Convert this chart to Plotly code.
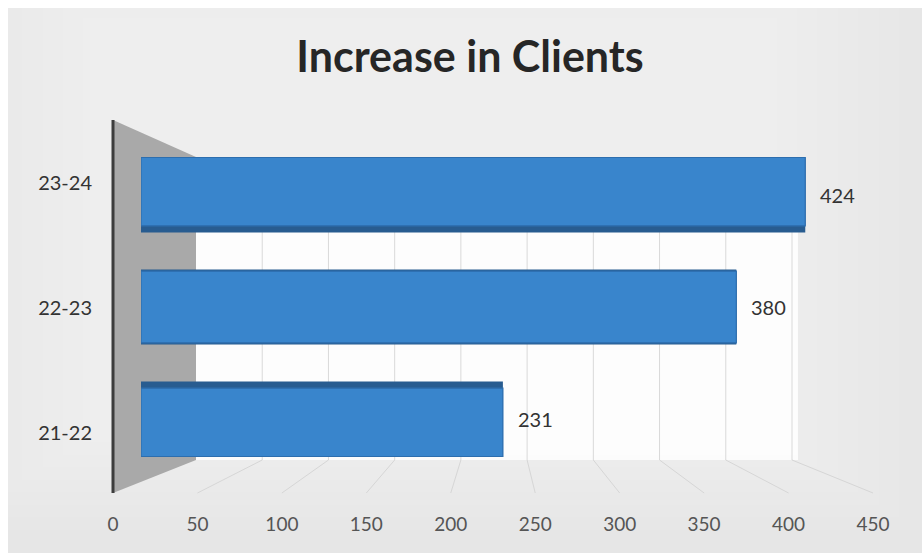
import plotly.graph_objects as go

# ---- data -------------------------------------------------------------
periods = ["21-22", "22-23", "23-24"]
clients = [231, 380, 424]
x_ticks = [0, 50, 100, 150, 200, 250, 300, 350, 400, 450]
x_range = [0, 450]

# ---- canvas helpers (pixel -> paper fraction) -------------------------
W, H = 922, 553


def px(x):
    return x / W


def py(y):
    return 1 - y / H


# geometry of the pseudo-3D frame (pixels)
BAR_X = (141, 846)        # bar axis: 0 .. 450
BAR_Y = (139, 475)        # bar category band (top, bottom)
WALL_X = (196, 792)       # back wall scale: 0 .. 450
WALL_Y = (157, 460)       # back wall (top, bottom)
FRONT_X = (113, 873)      # floor front edge: 0 .. 450
FLOOR_FRONT_Y = 493
SIDE_X = 113              # left side wall edge
SIDE_Y = (120, 493)
LABEL_Y = (120.5, 495.5)  # category label band

BLUE = "#3985cc"
BLUE_EDGE = "#2d6eae"
BLUE_DARK = "#285c90"


def lin(v, a, b):
    return a + (b - a) * (v - x_range[0]) / (x_range[1] - x_range[0])


fig = go.Figure()

# depth strip (visible above / below the front faces)
fig.add_trace(go.Bar(
    y=periods, x=clients, orientation="h",
    width=0.67, offset=-0.335,
    marker=dict(color=BLUE_DARK, line=dict(width=0)),
    hoverinfo="skip", showlegend=False,
    xaxis="x", yaxis="y",
))

# front faces of the bars
fig.add_trace(go.Bar(
    y=periods, x=clients, orientation="h",
    width=[0.61, 0.64, 0.61], offset=[-0.335, -0.32, -0.275],
    marker=dict(color=BLUE, line=dict(color=BLUE_EDGE, width=1.2)),
    hovertemplate="%{y}: %{x}<extra></extra>", showlegend=False,
    xaxis="x", yaxis="y",
))

# helper traces so the auxiliary axes are drawn
invisible = dict(mode="markers", marker=dict(opacity=0), hoverinfo="skip", showlegend=False)
fig.add_trace(go.Scatter(x=x_range, y=[0, 0], xaxis="x2", yaxis="y2", **invisible))
fig.add_trace(go.Scatter(x=[0, 0, 0], y=periods, xaxis="x3", yaxis="y3", **invisible))

# value labels
annotations = [
    dict(x=v, y=p, xref="x", yref="y", text=str(v), showarrow=False,
         xanchor="left", yanchor="middle", xshift=13,
         font=dict(family="Lato", size=20, color="#333333"))
    for p, v in zip(periods, clients)
]

# ---- background and frame shapes --------------------------------------
shapes = [
    dict(type="rect", xref="paper", yref="paper", x0=px(8), x1=1, y0=0, y1=py(8),
         fillcolor="#e6e6e6", line=dict(width=0), layer="below"),
]
# soft vignette: nested light rectangles
cx, cy = 430, 230
steps = 24
for i in range(steps):
    f = 1 - i / steps
    hw, hh = 490 * f, 300 * f
    shapes.append(dict(type="rect", xref="paper", yref="paper",
                       x0=px(max(cx - hw, 8)), x1=px(min(cx + hw, W)),
                       y0=py(min(cy + hh, H)), y1=py(max(cy - hh, 8)),
                       fillcolor="white", opacity=0.055, line=dict(width=0), layer="below"))

# back wall panel
shapes.append(dict(type="rect", xref="paper", yref="paper",
                   x0=px(WALL_X[0]), x1=px(WALL_X[1] + 6), y0=py(WALL_Y[1]), y1=py(WALL_Y[0]),
                   fillcolor="#ffffff", opacity=0.85, line=dict(width=0), layer="below"))

# back wall gridlines
for v in x_ticks[1:]:
    xw = px(lin(v, *WALL_X))
    shapes.append(dict(type="line", xref="paper", yref="paper",
                       x0=xw, x1=xw, y0=py(WALL_Y[1]), y1=py(WALL_Y[0]),
                       line=dict(color="#d9d9d9", width=1), layer="below"))

# floor gridlines joining the back wall to the front edge
for v in x_ticks[1:]:
    shapes.append(dict(type="line", xref="paper", yref="paper",
                       x0=px(lin(v, *WALL_X)), y0=py(WALL_Y[1]),
                       x1=px(lin(v, *FRONT_X)), y1=py(FLOOR_FRONT_Y),
                       line=dict(color="#d6d6d6", width=1), layer="below"))

# side wall (grey trapezoid) and its front edge
shapes.append(dict(
    type="path", xref="paper", yref="paper",
    path=(f"M {px(SIDE_X)},{py(SIDE_Y[0])} L {px(WALL_X[0])},{py(WALL_Y[0])} "
          f"L {px(WALL_X[0])},{py(WALL_Y[1])} L {px(SIDE_X)},{py(SIDE_Y[1])} Z"),
    fillcolor="#a9a9a9", line=dict(width=0), layer="below"))
shapes.append(dict(type="line", xref="paper", yref="paper",
                   x0=px(SIDE_X), x1=px(SIDE_X), y0=py(SIDE_Y[1]), y1=py(SIDE_Y[0]),
                   line=dict(color="#3c3c3c", width=3), layer="below"))

fig.update_layout(
    width=W, height=H, autosize=False,
    margin=dict(l=0, r=0, t=0, b=0, pad=0),
    paper_bgcolor="#ffffff", plot_bgcolor="rgba(0,0,0,0)",
    barmode="overlay",
    title=dict(text="<b>Increase in Clients</b>", x=px(470), y=py(57),
               xanchor="center", yanchor="middle",
               font=dict(family="Lato", size=43, color="#262626")),
    # bars
    xaxis=dict(domain=[px(BAR_X[0]), px(BAR_X[1])], range=x_range, visible=False,
               anchor="y", automargin=False, fixedrange=True),
    yaxis=dict(domain=[py(BAR_Y[1]), py(BAR_Y[0])], type="category",
               categoryorder="array", categoryarray=periods, range=[-0.5, 2.5],
               visible=False, anchor="x", automargin=False, fixedrange=True),
    # tick labels along the floor front edge
    xaxis2=dict(domain=[px(FRONT_X[0]), px(FRONT_X[1])], range=x_range,
                tickmode="array", tickvals=x_ticks, ticks="", showgrid=False,
                zeroline=False, showline=False, anchor="y2",
                tickfont=dict(family="Lato", size=19, color="#555555"),
                automargin=False, fixedrange=True),
    yaxis2=dict(domain=[py(511), py(505)], range=[0, 1], visible=False,
                anchor="x2", automargin=False, fixedrange=True),
    # category labels on the side wall
    xaxis3=dict(domain=[px(SIDE_X), px(SIDE_X + 6)], range=[0, 1], visible=False,
                anchor="y3", automargin=False, fixedrange=True),
    yaxis3=dict(domain=[py(LABEL_Y[1]), py(LABEL_Y[0])], type="category",
                categoryorder="array", categoryarray=periods, range=[-0.5, 2.5],
                anchor="x3", side="left", ticks="", showgrid=False, zeroline=False,
                showline=False, ticklabelstandoff=20,
                tickfont=dict(family="Lato", size=20, color="#333333"),
                automargin=False, fixedrange=True),
    annotations=annotations,
    shapes=shapes,
)

fig.write_html("out.html")
